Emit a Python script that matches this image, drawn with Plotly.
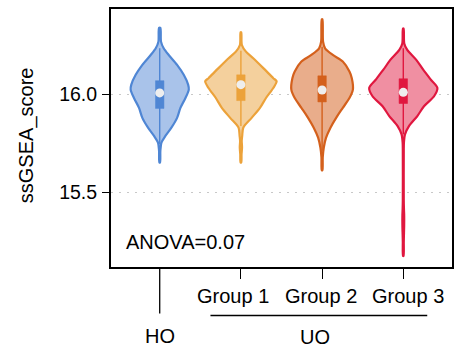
import plotly.graph_objects as go

# ---------------- data ----------------
groups = ["HO", "Group 1", "Group 2", "Group 3"]
positions = [0, 1, 2, 3]

# violin density outlines: score levels and half-widths (category units)
ho_y = [16.338, 16.268, 16.234, 16.200, 16.150, 16.099, 16.049, 16.024, 15.981, 15.931, 15.880, 15.830, 15.788, 15.754, 15.712, 15.653]
ho_w = [0.008, 0.016, 0.049, 0.111, 0.214, 0.296, 0.350, 0.358, 0.317, 0.255, 0.214, 0.144, 0.070, 0.021, 0.008, 0.004]

g1_y = [16.315, 16.251, 16.217, 16.183, 16.133, 16.082, 16.066, 16.032, 15.981, 15.931, 15.880, 15.830, 15.788, 15.763, 15.729, 15.695, 15.653]
g1_w = [0.004, 0.012, 0.062, 0.152, 0.276, 0.399, 0.440, 0.399, 0.309, 0.235, 0.132, 0.029, 0.016, 0.010, 0.014, 0.008, 0.004]

g2_y = [16.382, 16.268, 16.234, 16.200, 16.167, 16.116, 16.082, 16.024, 15.981, 15.931, 15.880, 15.830, 15.779, 15.729, 15.678, 15.614]
g2_w = [0.004, 0.012, 0.037, 0.132, 0.255, 0.337, 0.366, 0.379, 0.337, 0.255, 0.173, 0.103, 0.049, 0.021, 0.008, 0.004]

g3_y = [16.335, 16.259, 16.226, 16.175, 16.125, 16.074, 16.032, 15.990, 15.939, 15.889, 15.838, 15.796, 15.754, 15.712, 15.460, 15.419, 15.384, 15.333, 15.283, 15.247, 15.177]
g3_w = [0.004, 0.012, 0.049, 0.160, 0.245, 0.340, 0.420, 0.379, 0.255, 0.173, 0.070, 0.021, 0.008, 0.006, 0.006, 0.008, 0.011, 0.011, 0.008, 0.006, 0.003]

violin_y = [ho_y, g1_y, g2_y, g3_y]
violin_w = [ho_w, g1_w, g2_w, g3_w]

# box summary values
q1 = [15.928, 15.968, 15.961, 15.953]
median = [16.007, 16.049, 16.022, 16.010]
q3 = [16.069, 16.099, 16.094, 16.079]
whisker_lo = [15.746, 15.838, 15.712, 15.796]
whisker_hi = [16.234, 16.221, 16.242, 16.234]

anova_text = "ANOVA=0.07"
y_ticks = [15.5, 16.0]
y_ticklabels = ["15.5", "16.0"]

# ---------------- style ----------------
line_colors = ["#4F86D4", "#ECA23A", "#D4601C", "#E0173F"]
fill_colors = ["#A9C3EA", "#F4D09D", "#E9AD8B", "#F08FA2"]
FONT = "Liberation Sans, Arial, sans-serif"
BOX_HALF = 0.052

fig = go.Figure()

for i, p in enumerate(positions):
    ys = violin_y[i]
    ws = violin_w[i]
    xs = [p + w for w in ws] + [p - w for w in reversed(ws)]
    yy = list(ys) + list(reversed(ys))
    fig.add_trace(go.Scatter(
        x=xs + [xs[0]], y=yy + [yy[0]], mode="lines", fill="toself",
        fillcolor=fill_colors[i],
        line=dict(color=line_colors[i], width=2.2, shape="spline", smoothing=0.8),
        hoverinfo="skip", showlegend=False))
    # whisker line
    fig.add_trace(go.Scatter(
        x=[p, p], y=[whisker_lo[i], whisker_hi[i]], mode="lines",
        line=dict(color=line_colors[i], width=1.4),
        hoverinfo="skip", showlegend=False))
    # box (q1..q3)
    fig.add_trace(go.Scatter(
        x=[p - BOX_HALF, p + BOX_HALF, p + BOX_HALF, p - BOX_HALF, p - BOX_HALF],
        y=[q1[i], q1[i], q3[i], q3[i], q1[i]], mode="lines", fill="toself",
        fillcolor=line_colors[i], line=dict(color=line_colors[i], width=0.5),
        hoverinfo="skip", showlegend=False))

fig.add_trace(go.Scatter(
    x=positions, y=median, mode="markers",
    marker=dict(color="#EEEEEE", size=9, line=dict(width=0)),
    showlegend=False, hoverinfo="skip"))

annotations = [
    dict(x=-0.445, y=15.247, xref="x", yref="y", text=anova_text, showarrow=False,
         xanchor="left", yanchor="middle", font=dict(size=20, color="black", family=FONT)),
    dict(x=-0.247, y=0.51, xref="paper", yref="paper", text="ssGSEA_score", textangle=-90,
         showarrow=False, xanchor="center", yanchor="middle",
         font=dict(size=20, color="black", family=FONT)),
]
label_x = [0.898, 1.981, 3.062]
for lx, g in zip(label_x, groups[1:]):
    annotations.append(dict(x=lx, y=-0.112, xref="x", yref="paper", text=g, showarrow=False,
                            xanchor="center", yanchor="middle",
                            font=dict(size=20, color="black", family=FONT)))
annotations.append(dict(x=0, y=-0.268, xref="x", yref="paper", text="HO", showarrow=False,
                        xanchor="center", yanchor="middle", font=dict(size=20, color="black", family=FONT)))
annotations.append(dict(x=1.91, y=-0.27, xref="x", yref="paper", text="UO", showarrow=False,
                        xanchor="center", yanchor="middle", font=dict(size=20, color="black", family=FONT)))

shapes = [
    dict(type="line", xref="x", yref="paper", x0=0, x1=0, y0=0, y1=-0.18,
         line=dict(color="black", width=1.3)),
    dict(type="line", xref="x", yref="paper", x0=0.625, x1=3.295, y0=-0.188, y1=-0.188,
         line=dict(color="black", width=1.3)),
]

fig.update_layout(
    width=467, height=349,
    margin=dict(l=111, r=15, t=7, b=82),
    paper_bgcolor="white", plot_bgcolor="white",
    showlegend=False,
    annotations=annotations, shapes=shapes,
    xaxis=dict(range=[-0.6, 3.6], tickvals=[1, 2, 3], ticktext=["", "", ""],
               ticks="outside", ticklen=10, tickwidth=1.3, tickcolor="black",
               showline=True, linecolor="black", linewidth=2, mirror=True,
               showgrid=False, zeroline=False, fixedrange=True),
    yaxis=dict(range=[15.121, 16.434], tickvals=y_ticks, ticktext=y_ticklabels,
               ticks="outside", ticklen=7, tickwidth=1.3, tickcolor="black",
               tickfont=dict(size=19.5, color="black", family=FONT),
               ticklabelstandoff=1,
               showline=True, linecolor="black", linewidth=2, mirror=True,
               showgrid=True, gridcolor="#C8C8C8", griddash="2px,6px", gridwidth=1,
               zeroline=False, fixedrange=True),
)

fig.write_html("out.html", config={"displayModeBar": False},
               post_script="document.body.style.margin='0px';document.body.style.padding='0px';")
